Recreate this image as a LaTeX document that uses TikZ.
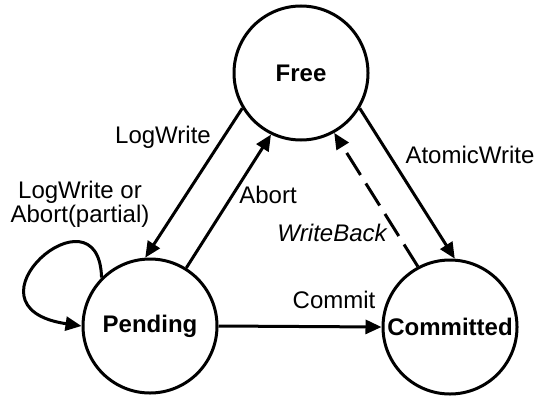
\documentclass[tikz,border=0pt]{standalone}
\usepackage{fontspec}
\setmainfont{Liberation Sans}
\usetikzlibrary{arrows.meta}
\begin{document}
\begin{tikzpicture}[x=0.5pt,y=0.5pt,
  state/.style={circle,draw,line width=1.5pt,minimum size=67pt,inner sep=0pt,font=\fontsize{12}{13}\selectfont\bfseries},
  arr/.style={line width=1.5pt,-{Triangle[length=8pt,width=7pt]}},
  lbl/.style={font=\fontsize{12}{11}\selectfont,inner sep=0pt,align=center}]
\useasboundingbox (0,0) rectangle (539,397);
\node[state] (free) at (301,324) {Free};
\node[state] (pending) at (150,71) {Pending};
\node[state] (committed) at (450,70) {Committed};
\draw[arr] (free.211) -- (pending.94);
\draw[arr] (pending.58) -- (free.244);
\draw[arr] (free.329) -- (committed.86);
\draw[arr,dash pattern=on 13pt off 5pt] (committed.118) -- (free.299);
\draw[arr] (pending.east) -- (committed.west);
\draw[arr] (pending.135) .. controls +(-2.6,96.6) and +(-128,19) .. (pending.180);
\node[lbl] (l1) at (163,260) {LogWrite};
\node[lbl] (l2) at (80,193) {LogWrite or\\Abort(partial)};
\node[lbl] (l3) at (268,202) {Abort};
\node[lbl] (l4) at (332,164) {\itshape WriteBack};
\node[lbl] (l5) at (470,242) {AtomicWrite};
\node[lbl] (l6) at (334,97) {Commit};
\end{tikzpicture}
\end{document}
